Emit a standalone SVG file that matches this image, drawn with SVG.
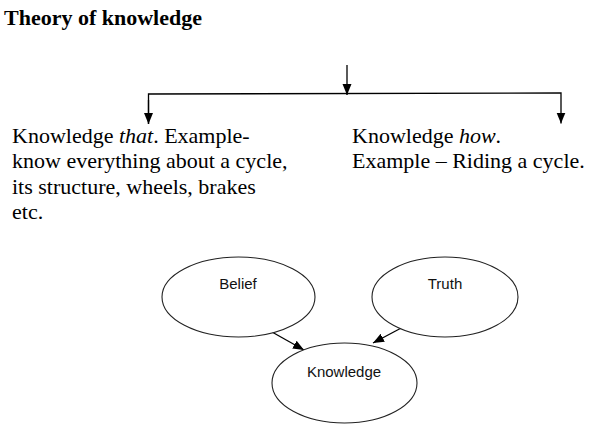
<svg xmlns="http://www.w3.org/2000/svg" width="590" height="437" viewBox="0 0 590 437">
<style>
.serif{font-family:"Liberation Serif","Times New Roman",serif;fill:#000}
.body{font-size:22px}
.title{font-size:22px;font-weight:bold}
.lbl{font-family:"Liberation Sans",Arial,sans-serif;font-size:15px;fill:#111;text-anchor:middle}
.node{fill:#fff;stroke:#222;stroke-width:1.1}
.conn{fill:none;stroke:#000;stroke-width:1.3}
</style>
<defs>
<marker id="ah" markerUnits="userSpaceOnUse" markerWidth="12" markerHeight="12" viewBox="0 0 12 12" refX="11" refY="6" orient="auto">
<path d="M0,1.5 L11,6 L0,10.5 Z" fill="#000"/>
</marker>
</defs>
<rect width="590" height="437" fill="#fff"/>
<text id="title" class="serif title" x="4" y="25">Theory of knowledge</text>
<g id="connectors">
<line class="conn" x1="347" y1="65" x2="347" y2="95" marker-end="url(#ah)"/>
<polyline class="conn" points="148.5,124 148.5,94 561,93 561,123.5" marker-end="url(#ah)"/>
<line class="conn" x1="148.5" y1="100" x2="148.5" y2="124" marker-end="url(#ah)"/>
<line class="conn" x1="272" y1="332" x2="304" y2="350" marker-end="url(#ah)"/>
<line class="conn" x1="405" y1="326" x2="373" y2="343" marker-end="url(#ah)"/>
</g>
<g id="knowledge-that">
<text class="serif body" x="12" y="143">Knowledge <tspan font-style="italic">that</tspan>. Example-</text>
<text class="serif body" x="12" y="168.3">know everything about a cycle,</text>
<text class="serif body" x="12" y="193.6">its structure, wheels, brakes</text>
<text class="serif body" x="12" y="219">etc.</text>
</g>
<g id="knowledge-how">
<text class="serif body" x="352" y="143">Knowledge <tspan font-style="italic">how</tspan>.</text>
<text class="serif body" x="352" y="168">Example – Riding a cycle.</text>
</g>
<g id="belief">
<ellipse class="node" cx="238.5" cy="297" rx="76.5" ry="40"/>
<text class="lbl" x="238" y="289">Belief</text>
</g>
<g id="truth">
<ellipse class="node" cx="445" cy="297" rx="73" ry="40"/>
<text class="lbl" x="445" y="289">Truth</text>
</g>
<g id="knowledge">
<ellipse class="node" cx="344.5" cy="383" rx="72.5" ry="40"/>
<text class="lbl" x="344" y="377">Knowledge</text>
</g>
</svg>
